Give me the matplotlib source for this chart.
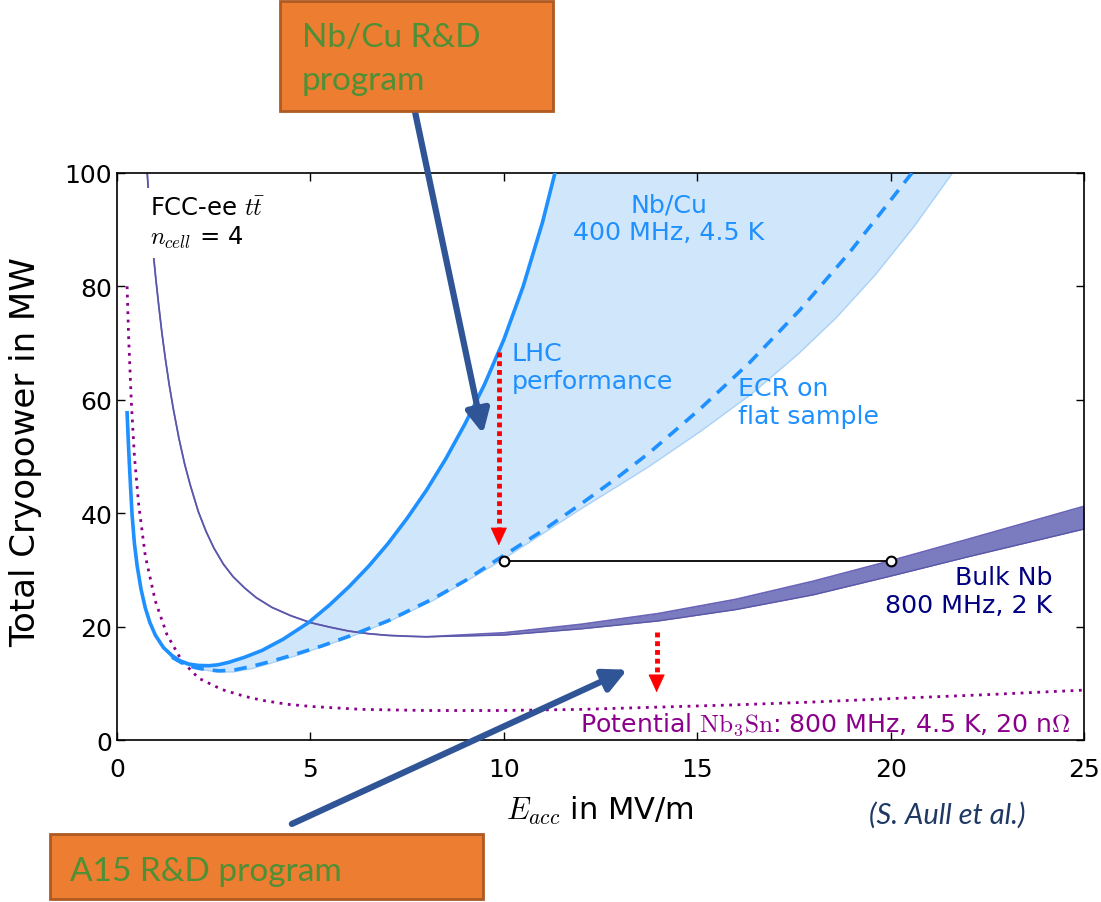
import numpy as np
import matplotlib
matplotlib.use("Agg")
import matplotlib.pyplot as plt
from matplotlib.patches import Rectangle

plt.rcParams['mathtext.fontset'] = 'cm'
plt.rcParams['font.family'] = ['DejaVu Sans']

# Nb/Cu 400 MHz, 4.5 K -- LHC performance (solid)
nbcu_x = [0.26, 0.30, 0.35, 0.39, 0.45, 0.52, 0.62, 0.73, 0.85, 0.99, 1.2, 1.42, 1.62,
          1.85, 2.1, 2.37, 2.6, 2.89, 3.3, 3.75, 4.3, 4.95, 5.5, 6.0, 6.5, 7.0, 7.5, 8.0,
          8.5, 9.0, 9.5, 10.0, 10.5, 11.0, 11.34, 11.45]
nbcu_y = [57.7, 51.3, 44.5, 39.6, 34.6, 30.7, 26.6, 23.3, 20.7, 18.5, 16.3, 14.9, 14.0,
          13.4, 13.15, 13.1, 13.25, 13.7, 14.6, 15.8, 17.8, 20.7, 23.85, 27.05, 30.6, 34.6,
          39.1, 44.05, 49.6, 55.8, 62.7, 70.6, 80.0, 91.3, 100.5, 104.0]

# Nb/Cu -- ECR on flat sample (dashed)
ecr_x = [1.42, 1.7, 2.0, 2.3, 2.63, 3.0, 3.49, 4.0, 4.6, 5.3, 6.0, 7.0, 8.17, 9.0, 9.85,
         11.0, 12.05, 12.9, 13.77, 15.06, 16.36, 17.65, 18.94, 19.75, 20.55, 20.7]
ecr_y = [14.6, 13.5, 12.8, 12.4, 12.2, 12.3, 13.0, 13.9, 15.1, 16.6, 18.3, 21.0, 24.9, 28.1, 31.9,
         36.9, 41.9, 46.1, 50.7, 58.3, 66.6, 75.8, 86.0, 93.0, 100.0, 101.5]

# lower edge of the Nb/Cu band
edge_x = [0.99, 1.2, 1.42, 1.8, 2.2, 2.6, 3.0, 3.5, 4.6, 6.0, 7.0, 8.17, 9.0, 9.85, 11.19,
          12.05, 13.0, 13.77, 15.06, 16.4, 17.6, 18.6, 19.6, 20.6, 21.6, 21.75]
edge_y = [18.3, 16.2, 14.5, 13.2, 12.4, 12.0, 12.0, 12.6, 14.8, 18.1, 20.8, 24.6, 27.9, 31.3, 37.2,
          41.0, 45.0, 48.3, 54.3, 61.0, 68.0, 74.5, 82.0, 90.5, 100.0, 101.5]

# Bulk Nb 800 MHz, 2 K (band, single line at low field)
bulk_x = [0.78, 0.85, 0.92, 1.0, 1.08, 1.16, 1.25, 1.35, 1.46, 1.6, 1.75, 1.9, 2.1, 2.3,
          2.5, 2.75, 3.0, 3.3, 3.6, 4.0, 4.5, 5.0, 5.5, 6.0, 6.5, 7.0, 7.5, 8.0,
          10.0, 12.0, 14.0, 16.0, 18.0, 20.0, 22.0, 25.0]
bulk_hi = [100.0, 93.0, 87.0, 81.5, 76.5, 71.8, 67.2, 62.6, 58.2, 53.2, 48.6, 44.8, 40.3, 36.8,
           33.9, 31.0, 28.8, 26.8, 25.1, 23.4, 21.9, 20.7, 19.9, 19.2, 18.75, 18.45, 18.3, 18.2,
           18.9, 20.4, 22.3, 24.8, 28.0, 31.6, 35.4, 41.2]
bulk_lo = [100.0, 93.0, 87.0, 81.5, 76.5, 71.8, 67.2, 62.6, 58.2, 53.2, 48.6, 44.8, 40.3, 36.8,
           33.9, 31.0, 28.8, 26.8, 25.1, 23.4, 21.9, 20.7, 19.9, 19.2, 18.75, 18.45, 18.3, 18.2,
           18.5, 19.6, 21.0, 23.0, 25.6, 28.9, 32.3, 37.2]

# Potential Nb3Sn 800 MHz, 4.5 K, 20 nOhm (dotted)
sn_x = [0.26, 0.30, 0.37, 0.45, 0.56, 0.73, 0.99, 1.29, 1.68, 2.11, 2.71, 3.3, 3.75, 4.4,
        5.04, 6.33, 8.0, 9.9, 12.0, 14.0, 16.0, 18.0, 20.0, 22.5, 25.0]
sn_y = [80.0, 71.0, 59.5, 50.0, 41.5, 32.5, 24.5, 18.6, 13.9, 10.9, 8.9, 7.7, 7.0, 6.3,
        5.9, 5.4, 5.2, 5.2, 5.4, 5.8, 6.2, 6.7, 7.3, 8.0, 8.8]

# same cryopower, different gradient
same_x = [10, 20]
same_y = [31.6, 31.6]

blue = '#1e90ff'
fig = plt.figure(figsize=(11.01, 9.03), dpi=100)
ax = fig.add_axes([0.1063, 0.1794, 0.8783, 0.628])

ax.fill(np.concatenate([nbcu_x[9:], edge_x[::-1]]),
        np.concatenate([nbcu_y[9:], edge_y[::-1]]),
        color='#d0e6fb', lw=0, zorder=1)
ax.plot(edge_x, edge_y, color='#a9d1f7', lw=1.0, zorder=1.5)
ax.plot(nbcu_x, nbcu_y, color=blue, lw=2.6, zorder=3)
ax.plot(ecr_x, ecr_y, color=blue, lw=2.6, ls=(0, (3.5, 2.5)), zorder=3)

ax.fill_between(bulk_x, bulk_lo, bulk_hi, color='#7b7bbf', lw=0, zorder=2)
ax.plot(bulk_x, bulk_hi, color='#6a64b8', lw=1.3, zorder=2.5)
ax.plot(bulk_x, bulk_lo, color='#5a56a8', lw=1.0, zorder=2.5)

ax.plot(sn_x, sn_y, color='#8b008b', lw=2.0, ls=(0, (1, 2)), zorder=2)

ax.plot(same_x, same_y, color='black', lw=1.3, marker='o', ms=7, mfc='white',
        mec='black', mew=1.5, zorder=5)

# red dotted arrows
for xa, y0, ytip in [(9.87, 68.4, 34.3), (13.95, 19.1, 8.4)]:
    ax.plot([xa, xa], [y0, ytip + 2.5], color='red', lw=3.5, ls=(0, (1, 0.8)),
            solid_capstyle='butt', zorder=6)
    ax.annotate('', xy=(xa, ytip), xytext=(xa, ytip + 3.0),
                arrowprops=dict(arrowstyle='-|>,head_length=1.2,head_width=0.55',
                                color='red', lw=0.5, shrinkA=0, shrinkB=0,
                                mutation_scale=10), zorder=6)

# R&D program arrows
for start, tip in [((7.7, 110.9), (9.46, 54.0)), ((4.52, -14.8), (13.19, 12.4))]:
    ax.annotate('', xy=tip, xytext=start, annotation_clip=False,
                arrowprops=dict(arrowstyle='-|>,head_length=0.7,head_width=0.35',
                                color='#2f5597', lw=4.5, shrinkA=0, shrinkB=0,
                                mutation_scale=20), zorder=10)

fs = 18.2
ax.text(0.85, 96.0, 'FCC-ee $t\\bar{t}$\n$n_{cell}$ = 4', fontsize=17.5, va='top', ha='left',
        bbox=dict(facecolor='white', edgecolor='none', pad=6), zorder=4)
ax.text(14.26, 96.6, 'Nb/Cu\n400 MHz, 4.5 K', fontsize=fs, color=blue, ha='center',
        va='top', multialignment='center', zorder=4)
ax.text(10.2, 70.4, 'LHC\nperformance', fontsize=fs, color=blue, ha='left', va='top', zorder=4)
ax.text(16.05, 64.2, 'ECR on\nflat sample', fontsize=fs, color=blue, ha='left', va='top', zorder=4)
ax.text(24.19, 30.9, 'Bulk Nb\n800 MHz, 2 K', fontsize=fs, color='#000080', ha='right',
        va='top', multialignment='right', zorder=4)
ax.text(11.96, 1.6, 'Potential $\\mathrm{Nb_3Sn}$: 800 MHz, 4.5 K, 20 n$\\Omega$', fontsize=fs,
        color='#8b008b', ha='left', va='baseline', zorder=4)

ax.set_xlim(0, 25)
ax.set_ylim(0, 100)
ax.set_xticks([0, 5, 10, 15, 20, 25])
ax.set_yticks([0, 20, 40, 60, 80, 100])
ax.tick_params(direction='in', top=True, right=True, length=6, width=1, labelsize=18)
ax.tick_params(axis='x', pad=12)
for s in ax.spines.values():
    s.set_linewidth(1.2)
ax.set_xlabel('$E_{acc}$ in MV/m', fontsize=22)
ax.set_ylabel('Total Cryopower in MW', fontsize=24.5)
ax.xaxis.set_label_coords(0.4995, -0.095)
ax.yaxis.set_label_coords(-0.077, 0.51)

fig.text(0.860, 0.0975, '(S. Aull et al.)', fontsize=21, style='italic', family='Lato',
         color='#1f3864', ha='center', va='center')

# orange program boxes
for (bx, by, bw, bh) in [(0.2543, 0.8756, 0.2477, 0.1225), (0.0454, 0.0033, 0.3936, 0.072)]:
    fig.add_artist(Rectangle((bx, by), bw, bh, transform=fig.transFigure,
                             facecolor='#ed7d31', edgecolor='#ae5a21', lw=2, zorder=8))
green = '#4f8f35'
fig.text(0.274, 0.9483, 'Nb/Cu R&D', fontsize=24, family='Lato', color=green,
         va='baseline', zorder=9)
fig.text(0.274, 0.9003, 'program', fontsize=24, family='Lato', color=green,
         va='baseline', zorder=9)
fig.text(0.0636, 0.0247, 'A15 R&D program', fontsize=24, family='Lato', color=green,
         va='baseline', zorder=9)

fig.savefig('out.png', dpi=100)
